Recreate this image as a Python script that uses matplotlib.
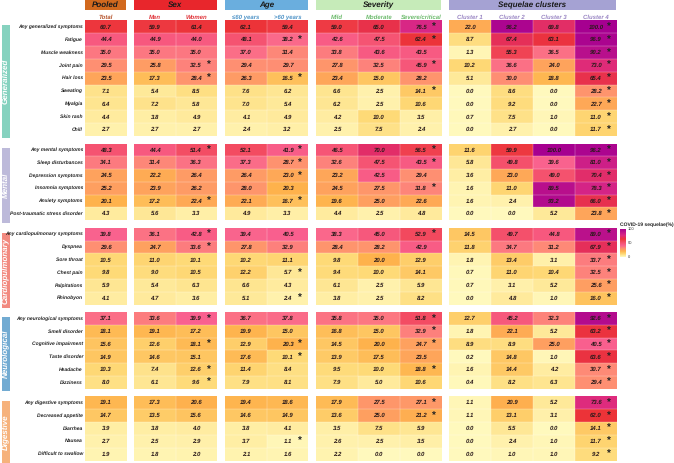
import numpy as np
import matplotlib
matplotlib.use('Agg')
import matplotlib.pyplot as plt
from matplotlib.colors import LinearSegmentedColormap
from matplotlib.patches import Rectangle

plt.rcParams['font.family'] = ['Liberation Sans', 'DejaVu Sans']
plt.rcParams['text.hinting'] = 'no_hinting'
plt.rcParams['text.hinting_factor'] = 1

W, H = 674, 463

columns = ['Total', 'Men', 'Women', '≤60 years', '>60 years', 'Mild', 'Moderate',
           'Severe/critical', 'Cluster 1', 'Cluster 2', 'Cluster 3', 'Cluster 4']
column_colors = ['#b5522a', '#e0343a', '#e0343a', '#4f94c8', '#4f94c8', '#6dbb6d', '#6dbb6d',
                 '#6dbb6d', '#9a86c4', '#9a86c4', '#9a86c4', '#9a86c4']

generalized_labels = ['Any generalized symptoms', 'Fatigue', 'Muscle weakness', 'Joint pain', 'Hair loss',
                      'Sweating', 'Myalgia', 'Skin rash', 'Chill']
generalized = [[60.7, 59.9, 61.4, 62.1, 59.4, 59.0, 65.0, 76.5, 22.0, 96.2, 69.8, 100.0],
               [44.4, 44.9, 44.0, 48.1, 38.2, 42.6, 47.5, 62.4, 8.7, 67.4, 63.1, 96.9],
               [35.0, 35.0, 35.0, 37.0, 31.4, 33.8, 43.6, 43.5, 1.3, 55.3, 36.5, 90.2],
               [29.5, 25.8, 32.5, 29.4, 29.7, 27.8, 32.5, 45.9, 10.2, 36.6, 24.0, 73.0],
               [23.5, 17.3, 28.4, 26.3, 16.5, 23.4, 15.0, 28.2, 5.1, 30.0, 18.8, 65.4],
               [7.1, 5.4, 8.5, 7.6, 6.2, 6.6, 2.5, 14.1, 0.0, 8.6, 0.0, 28.2],
               [6.4, 7.2, 5.8, 7.0, 5.4, 6.2, 2.5, 10.6, 0.0, 9.2, 0.0, 22.7],
               [4.4, 3.8, 4.9, 4.1, 4.9, 4.2, 10.0, 3.5, 0.7, 7.5, 1.0, 11.0],
               [2.7, 2.7, 2.7, 2.4, 3.2, 2.5, 7.5, 2.4, 0.0, 2.7, 0.0, 11.7]]
generalized_stars = [[7, 11], [4, 7, 11], [11], [2, 7, 11], [2, 4, 11], [7, 11], [11], [11], [11]]

mental_labels = ['Any mental symptoms', 'Sleep disturbances', 'Depression symptoms', 'Insomnia symptoms',
                 'Anxiety symptoms', 'Post-traumatic stress disorder']
mental = [[48.3, 44.4, 51.4, 52.1, 41.9, 46.5, 70.0, 56.5, 11.6, 59.9, 100.0, 96.2],
          [34.1, 31.4, 36.3, 37.3, 28.7, 32.6, 47.5, 43.5, 5.8, 49.8, 39.6, 81.0],
          [24.5, 22.2, 26.4, 26.4, 23.0, 23.2, 42.5, 29.4, 3.6, 23.0, 49.0, 70.4],
          [25.2, 23.9, 26.2, 28.0, 20.3, 24.5, 27.5, 31.8, 1.6, 11.0, 89.5, 78.3],
          [20.1, 17.2, 22.4, 22.1, 16.7, 19.6, 25.0, 22.6, 1.6, 2.4, 93.2, 66.0],
          [4.3, 5.6, 3.3, 4.9, 3.3, 4.4, 2.5, 4.8, 0.0, 0.0, 5.2, 23.8]]
mental_stars = [[2, 4, 7, 11], [4, 7, 11], [4, 11], [7, 11], [2, 4, 11], [11]]

cardio_labels = ['Any cardiopulmonary symptoms', 'Dyspnea', 'Sore throat', 'Chest pain', 'Palpitations',
                 'Rhinobyon']
cardio = [[39.8, 36.1, 42.8, 39.4, 40.5, 38.3, 45.0, 52.9, 14.5, 49.7, 44.8, 89.0],
          [29.6, 24.7, 33.6, 27.8, 32.9, 28.4, 28.2, 42.9, 11.8, 34.7, 31.2, 67.9],
          [10.5, 11.0, 10.1, 10.2, 11.1, 9.8, 20.0, 12.9, 1.8, 13.4, 3.1, 33.7],
          [9.8, 9.0, 10.5, 12.2, 5.7, 9.4, 10.0, 14.1, 0.7, 11.0, 10.4, 32.5],
          [5.9, 5.4, 6.3, 6.6, 4.3, 6.1, 2.5, 5.9, 0.7, 3.1, 5.2, 25.6],
          [4.1, 4.7, 3.6, 5.1, 2.4, 3.8, 2.5, 8.2, 0.0, 4.8, 1.0, 16.0]]
cardio_stars = [[2, 7, 11], [2, 11], [11], [4, 11], [11], [4, 11]]

neuro_labels = ['Any neurological symptoms', 'Smell disorder', 'Cognitive impairment', 'Taste disorder',
                'Headache', 'Dizziness']
neuro = [[37.1, 33.6, 39.9, 36.7, 37.8, 35.8, 35.0, 51.8, 12.7, 45.2, 32.3, 92.6],
         [18.1, 19.1, 17.2, 19.9, 15.0, 16.8, 15.0, 32.9, 1.8, 22.1, 5.2, 63.2],
         [15.6, 12.6, 18.1, 12.9, 20.3, 14.5, 20.0, 24.7, 8.9, 8.9, 25.0, 40.5],
         [14.9, 14.6, 15.1, 17.6, 10.1, 13.9, 17.5, 23.5, 0.2, 14.8, 1.0, 63.6],
         [10.3, 7.4, 12.6, 11.4, 8.4, 9.5, 10.0, 18.8, 1.6, 14.4, 4.2, 30.7],
         [8.0, 6.1, 9.6, 7.9, 8.1, 7.9, 5.0, 10.6, 0.4, 8.2, 6.3, 29.4]]
neuro_stars = [[2, 7, 11], [7, 11], [2, 4, 7, 11], [4, 11], [2, 7, 11], [2, 11]]

digestive_labels = ['Any digestive symptoms', 'Decreased appetite', 'Diarrhea', 'Nausea', 'Difficult to swallow']
digestive = [[19.1, 17.3, 20.6, 19.4, 18.6, 17.9, 27.5, 27.1, 1.1, 20.9, 5.2, 73.6],
             [14.7, 13.5, 15.6, 14.6, 14.9, 13.6, 25.0, 21.2, 1.1, 13.1, 3.1, 62.0],
             [3.9, 3.8, 4.0, 3.8, 4.1, 3.5, 7.5, 5.9, 0.0, 5.5, 0.0, 14.1],
             [2.7, 2.5, 2.9, 3.7, 1.1, 2.6, 2.5, 3.5, 0.0, 2.4, 1.0, 11.7],
             [1.9, 1.8, 2.0, 2.1, 1.6, 2.2, 0.0, 0.0, 0.0, 1.0, 1.0, 9.2]]
digestive_stars = [[7, 11], [7, 11], [11], [4, 11], [11]]

# (name, strip colour, labels, values, stars, top px, bottom px, strip top, strip bottom)
groups = [('Generalized', '#86d2bf', generalized_labels, generalized, generalized_stars, 20.3, 136, 25, 138),
          ('Mental', '#bdbada', mental_labels, mental, mental_stars, 143.5, 220, 148, 223),
          ('Cardiopulmonary', '#f28a80', cardio_labels, cardio, cardio_stars, 227.7, 304.5, 233, 308),
          ('Neurological', '#72abd2', neuro_labels, neuro, neuro_stars, 312, 388.7, 317, 391),
          ('Digestive', '#f6b27c', digestive_labels, digestive, digestive_stars, 396, 460.5, 401, 463)]

# column blocks: first col, last col + 1, left px, right px
blocks = [(0, 1, 85, 126.5), (1, 3, 134, 217), (3, 5, 225, 308.5), (5, 8, 316, 442), (8, 12, 449, 617)]

# header bars: text, colour, left px, right px
headers = [('Pooled', '#d2691e', 85, 125.5), ('Sex', '#e8262c', 134, 216.5), ('Age', '#6aaede', 225, 307.5),
           ('Severity', '#c6ebb9', 316, 440.5), ('Sequelae clusters', '#a5a2d3', 449, 616)]

cmap = LinearSegmentedColormap.from_list('sequelae', [
    (0.00, '#fff9bd'), (0.10, '#fed976'), (0.20, '#feb24c'), (0.30, '#fe8d74'),
    (0.40, '#f9608f'), (0.50, '#f4506a'), (0.62, '#ec3338'), (0.75, '#dc2a84'),
    (0.90, '#b80f8c'), (1.00, '#a60090')])


def px_axes(fig, left, top, right, bottom):
    return fig.add_axes([left / W, 1 - bottom / H, (right - left) / W, (bottom - top) / H])


fig = plt.figure(figsize=(W / 100, H / 100), dpi=100)

# one transparent axes in pixel units for all the loose text and strips
bg = fig.add_axes([0, 0, 1, 1])
bg.set_xlim(0, W)
bg.set_ylim(H, 0)
bg.axis('off')

for text, color, left, right in headers:
    bg.add_patch(Rectangle((left, 0), right - left, 10, fc=color, ec='none'))
    bg.text((left + right) / 2, 4.8, text, ha='center', va='center', fontsize=5.6,
            fontweight='bold', style='italic', color='#1a1a1a')

for j, name in enumerate(columns):
    for b0, b1, left, right in blocks:
        if b0 <= j < b1:
            w = (right - left) / (b1 - b0)
            bg.text(left + (j - b0 + 0.5) * w, 17, name, ha='center', va='center', fontsize=4.1,
                    style='italic', fontweight='bold', color=column_colors[j])

for name, color, labels, values, stars, top, bottom, s_top, s_bottom in groups:
    values = np.array(values)
    n = len(labels)
    bg.add_patch(Rectangle((1.5, s_top), 8.5, s_bottom - s_top, fc=color, ec='none'))
    bg.text(5.7, (s_top + s_bottom) / 2, name, rotation=90, ha='center', va='center',
            fontsize=5.6, style='italic', fontweight='bold', color='white')
    rh = (bottom - top) / n
    for i, lab in enumerate(labels):
        bg.text(83, top + (i + 0.5) * rh, lab, ha='right', va='center', fontsize=3.55,
                style='italic', fontweight='bold', color='#222222')
    for b0, b1, left, right in blocks:
        ax = px_axes(fig, left, top, right, bottom)
        ax.pcolormesh(np.arange(b1 - b0 + 1), np.arange(n + 1), values[:, b0:b1], cmap=cmap,
                      vmin=0, vmax=100, edgecolors='none')
        ax.hlines(np.arange(1, n), 0, b1 - b0, color='white', linewidth=0.3, alpha=0.6)
        ax.vlines(np.arange(1, b1 - b0), 0, n, color='white', linewidth=0.3, alpha=0.6)
        ax.set_xlim(0, b1 - b0)
        ax.set_ylim(n, 0)
        ax.axis('off')
        for i in range(n):
            for j in range(b0, b1):
                ax.text(j - b0 + 0.5, i + 0.52, f'{values[i, j]:.1f}', ha='center', va='center', fontsize=4.2,
                        style='italic', fontweight='bold', color='#2a1a1a')
                if j in stars[i]:
                    ax.text(j - b0 + 0.8, i + 0.48, '*', ha='center', va='center', fontsize=7.5,
                            fontweight='bold', color='#222222')

# colour bar
cax = px_axes(fig, 620, 229, 625.5, 257)
grad = np.linspace(100, 0, 100).reshape(-1, 1)
cax.imshow(grad, cmap=cmap, vmin=0, vmax=100, aspect='auto', extent=[0, 1, 0, 100])
cax.set_xticks([])
cax.yaxis.tick_right()
cax.set_yticks([0, 50, 100])
cax.tick_params(length=0, labelsize=3.2, pad=1.5, colors='#333333')
for s in cax.spines.values():
    s.set_visible(False)
bg.text(620, 225, 'COVID-19 sequelae(%)', ha='left', va='center', fontsize=3.7, fontweight='bold', color='#222222')

fig.savefig('out.png', dpi=100)
